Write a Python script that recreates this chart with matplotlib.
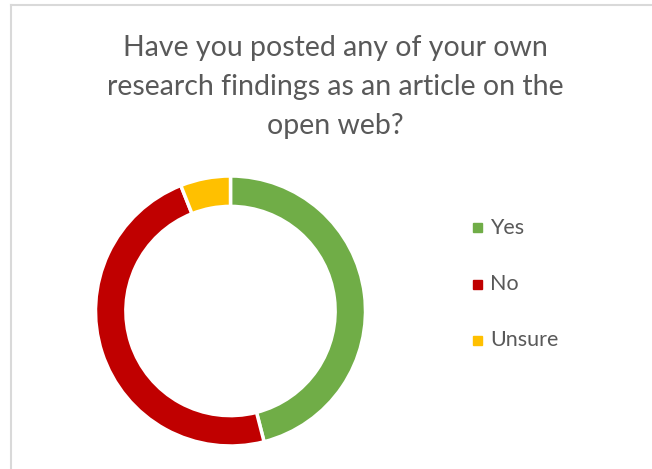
import matplotlib.pyplot as plt
from matplotlib.patches import Rectangle
from matplotlib.lines import Line2D

labels = ['Yes', 'No', 'Unsure']
shares = [46, 48, 6]
colors = ['#70AD47', '#C00000', '#FFC000']
title = "Have you posted any of your own\nresearch findings as an article on the\nopen web?"

plt.rcParams['font.family'] = ['Lato', 'DejaVu Sans']
W, H = 652, 469
fig = plt.figure(figsize=(W / 100, H / 100), dpi=100)

# light frame on the left and top edges
fig.add_artist(Line2D([10.5 / W, 10.5 / W], [0, 1 - 5.5 / H], color='#D9D9D9', lw=1.5))
fig.add_artist(Line2D([10.5 / W, 1], [1 - 5.5 / H, 1 - 5.5 / H], color='#D9D9D9', lw=1.5))

fig.text(335 / W, 1 - 87 / H, title, ha='center', va='center', fontsize=20.5,
         color='#595959', linespacing=1.6)

# donut
cx, cy, r = 230.5, 311, 135
ax = fig.add_axes([(cx - r) / W, (H - cy - r) / H, 2 * r / W, 2 * r / H])
wedges, _ = ax.pie(shares, colors=colors, startangle=90, counterclock=False,
                   wedgeprops=dict(width=0.225, edgecolor='white', linewidth=2.5))
ax.set_xlim(-1, 1)
ax.set_ylim(-1, 1)
ax.set_aspect('auto')
ax.axis('off')

# legend
for i, (lab, col) in enumerate(zip(labels, colors)):
    y = 1 - (228 + 56 * i) / H
    fig.patches.append(Rectangle((473 / W, y - 4.5 / H), 9 / W, 9 / H,
                                 transform=fig.transFigure, color=col))
    fig.text(490 / W, y, lab, ha='left', va='center', fontsize=15.5, color='#595959')

fig.savefig('out.png', dpi=100)
